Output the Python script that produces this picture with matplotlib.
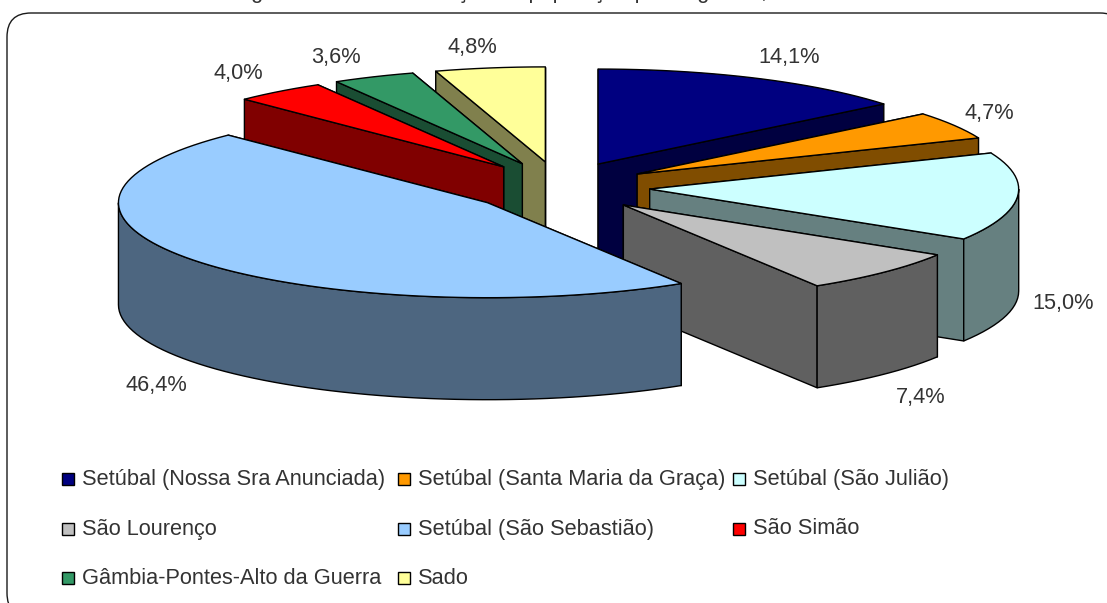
# -*- coding: utf-8 -*-
"""Exploded 3D-look pie of population share per parish, drawn on a pixel-sized axes."""
import matplotlib.pyplot as plt
import numpy as np
from matplotlib.patches import FancyBboxPatch, Polygon, Rectangle

categories = [
    "Setúbal (Nossa Sra Anunciada)",
    "Setúbal (Santa Maria da Graça)",
    "Setúbal (São Julião)",
    "São Lourenço",
    "Setúbal (São Sebastião)",
    "São Simão",
    "Gâmbia-Pontes-Alto da Guerra",
    "Sado",
]
shares = [14.1, 4.7, 15.0, 7.4, 46.4, 4.0, 3.6, 4.8]
top_colors = ["#000080", "#FF9900", "#CCFFFF", "#C0C0C0", "#99CCFF", "#FF0000", "#339966", "#FFFF99"]
side_colors = ["#000040", "#804D00", "#668080", "#606060", "#4D6680", "#800000", "#1A4D33", "#80804D"]
title = "Figura 1   –   A Distribuição da população por freguesia,"

W, H = 1107, 603
CX, CY, RX, RY = 559, 187, 369, 95
DEPTH = 102
EX, EY = 91, 25.4
DRAW_ORDER = [0, 1, 2, 7, 6, 5, 3, 4]
LABEL_POS = [(789, 57), (989, 114), (1063, 303), (921, 397), (156, 385), (238, 74), (336, 58), (472, 48)]
LEGEND_X = [62, 398, 733]
LEGEND_Y = [479, 529, 578]
LINE = 1.0
TEXT = "#333333"
FONT = "Liberation Sans"
FS = 15.7


def rim(cx, cy, a0, a1):
    t = np.radians(np.linspace(a0, a1, max(3, int((a1 - a0) / 2) + 1)))
    return np.column_stack([cx + RX * np.sin(t), cy - RY * np.cos(t)])


def draw_slice(ax, a0, a1, top, side):
    mid_deg = (a0 + a1) / 2
    mid = np.radians(mid_deg)
    cx = CX + EX * np.sin(mid)
    cy = CY - EY * np.cos(mid)
    apex = np.array([cx, cy])
    down = np.array([0, DEPTH])
    edge = rim(cx, cy, a0, a1)
    # back cut face first: on the right half the closing cut is the visible one
    cuts = (edge[0], edge[-1]) if mid_deg < 180 else (edge[-1], edge[0])
    for p in cuts:
        ax.add_patch(Polygon([apex, p, p + down, apex + down], fc=side, ec="black", lw=LINE, joinstyle="round"))
    lo, hi = max(a0, 90), min(a1, 270)
    if lo < hi:
        front = rim(cx, cy, lo, hi)
        ax.add_patch(Polygon(np.vstack([front, front[::-1] + down]), fc=side, ec="black", lw=LINE))
    ax.add_patch(Polygon(np.vstack([apex, edge]), fc=top, ec="black", lw=LINE, joinstyle="round"))


def main():
    fig = plt.figure(figsize=(W / 100, H / 100), dpi=100)
    ax = fig.add_axes((0, 0, 1, 1))
    ax.set_xlim(0, W)
    ax.set_ylim(H, 0)
    ax.axis("off")

    ax.add_patch(FancyBboxPatch((7 + 24, 13 + 24), W + 17 - 7 - 48, 617 - 13 - 48,
                                boxstyle="round,pad=24,rounding_size=24",
                                fc="white", ec="#1a1a1a", lw=1.0, clip_on=True))
    # the title sits above the canvas in the source, only its descenders show
    ax.text(233, -2, title, fontsize=FS, family=FONT, color=TEXT, ha="left", va="baseline", clip_on=True)

    edges = np.concatenate([[0], np.cumsum(shares)]) * 3.6
    for i in DRAW_ORDER:
        draw_slice(ax, edges[i], edges[i + 1], top_colors[i], side_colors[i])

    for (x, y), v in zip(LABEL_POS, shares):
        ax.text(x, y, f"{v:.1f}%".replace(".", ","), fontsize=FS, family=FONT, color=TEXT,
                ha="center", va="center")

    for i, name in enumerate(categories):
        x = LEGEND_X[i % 3]
        y = LEGEND_Y[i // 3]
        ax.add_patch(Rectangle((x, y - 6), 12, 12, fc=top_colors[i], ec="black", lw=1.0))
        ax.text(x + 20, y, name, fontsize=FS, family=FONT, color=TEXT, ha="left", va="center")

    fig.savefig("out.png", dpi=100, facecolor="white")
    plt.close(fig)


if __name__ == "__main__":
    main()
